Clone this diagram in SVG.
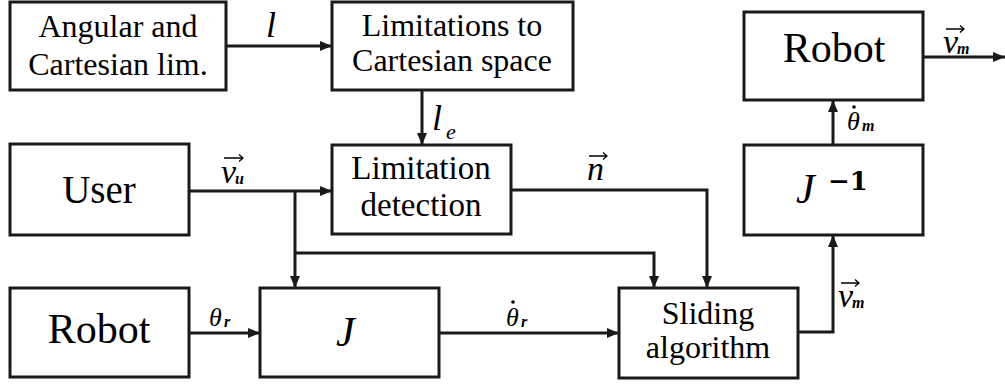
<svg xmlns="http://www.w3.org/2000/svg" width="1005" height="384" viewBox="0 0 1005 384">
<style>
.box{fill:#fff;stroke:#1a1a1a;stroke-width:3}
.t{fill:#000;text-anchor:middle}
.m{font-style:italic;fill:#000}
.sub{font-style:italic;font-weight:bold;fill:#000;font-size:16px}
.c{fill:none;stroke:#1a1a1a;stroke-width:3}
.va{fill:none;stroke:#000;stroke-width:1.3}
</style>
<defs>
<marker id="ah" viewBox="0 0 12 10" refX="12" refY="5" markerWidth="12" markerHeight="10" markerUnits="userSpaceOnUse" orient="auto">
<path d="M0,0 L12,5 L0,10 Z" fill="#1a1a1a"/>
</marker>
</defs>
<g id="connectors">
<path class="c" d="M226,46 H332" marker-end="url(#ah)"/>
<path class="c" d="M422,90 V145" marker-end="url(#ah)"/>
<path class="c" d="M189,191 H332" marker-end="url(#ah)"/>
<path class="c" d="M295,191 V288" marker-end="url(#ah)"/>
<path class="c" d="M295,253 H654 V288" marker-end="url(#ah)"/>
<path class="c" d="M511,190 H707 V288" marker-end="url(#ah)"/>
<path class="c" d="M189,333 H260" marker-end="url(#ah)"/>
<path class="c" d="M439,333 H619" marker-end="url(#ah)"/>
<path class="c" d="M798,332 H833 V235" marker-end="url(#ah)"/>
<path class="c" d="M833,145 V100" marker-end="url(#ah)"/>
<path class="c" d="M923,57 H1005" marker-end="url(#ah)"/>
</g>
<g font-family="Liberation Serif, 'Times New Roman', serif">
<g id="labels">
<text class="m" x="266" y="37" font-size="36">l</text>
<text class="m" x="432" y="130" font-size="36">l</text>
<text class="m" x="446" y="139" font-size="22">e</text>
<text class="m" x="221" y="183" font-size="34">v</text>
<text class="sub" x="235" y="184">u</text>
<path class="va" d="M224,158 H243 M239,154.5 L243,158 L239,161.5"/>
<text class="m" x="587" y="180" font-size="34">n</text>
<path class="va" d="M589,156 H607 M603,152.5 L607,156 L603,159.5"/>
<text class="m" x="209" y="326" font-size="26">θ</text>
<text class="sub" x="224" y="327">r</text>
<text class="m" x="506" y="326" font-size="26">θ</text>
<circle cx="513" cy="302" r="1.8" fill="#000"/>
<text class="sub" x="521" y="327">r</text>
<text class="m" x="838" y="307" font-size="34">v</text>
<text class="sub" x="852" y="308">m</text>
<path class="va" d="M841,283 H859 M855,279.5 L859,283 L855,286.5"/>
<text class="m" x="847" y="130" font-size="26">θ</text>
<circle cx="854" cy="107" r="1.8" fill="#000"/>
<text class="sub" x="862" y="131">m</text>
<text class="m" x="943" y="53" font-size="34">v</text>
<text class="sub" x="957" y="54">m</text>
<path class="va" d="M946,29 H964 M960,25.5 L964,29 L960,32.5"/>
</g>
<g id="angular">
<rect class="box" x="10" y="2" width="216" height="88"/>
<text class="t" x="118" y="37" font-size="32">Angular and</text>
<text class="t" x="118" y="75" font-size="32">Cartesian lim.</text>
</g>
<g id="limitations">
<rect class="box" x="332" y="2" width="241" height="88"/>
<text class="t" x="452" y="36" font-size="32">Limitations to</text>
<text class="t" x="452" y="71" font-size="32">Cartesian space</text>
</g>
<g id="robot-out">
<rect class="box" x="744" y="12" width="179" height="88"/>
<text class="t" x="834" y="62" font-size="42">Robot</text>
</g>
<g id="user">
<rect class="box" x="10" y="144" width="179" height="91"/>
<text class="t" x="99" y="203" font-size="39">User</text>
</g>
<g id="detection">
<rect class="box" x="332" y="145" width="179" height="89"/>
<text class="t" x="421" y="179" font-size="33">Limitation</text>
<text class="t" x="421" y="216" font-size="33">detection</text>
</g>
<g id="jinv">
<rect class="box" x="744" y="145" width="179" height="90"/>
<text class="m" x="796" y="203" font-size="42">J</text>
<text x="828" y="190" font-family="DejaVu Serif, serif" font-weight="bold" font-size="26" fill="#000">−1</text>
</g>
<g id="robot-in">
<rect class="box" x="10" y="288" width="179" height="89"/>
<text class="t" x="99" y="343" font-size="42">Robot</text>
</g>
<g id="j">
<rect class="box" x="260" y="288" width="179" height="89"/>
<text class="m" x="336" y="346" font-size="42">J</text>
</g>
<g id="sliding">
<rect class="box" x="619" y="288" width="179" height="90"/>
<text class="t" x="708" y="324" font-size="32">Sliding</text>
<text class="t" x="708" y="358" font-size="32">algorithm</text>
</g>
</g>
</svg>
